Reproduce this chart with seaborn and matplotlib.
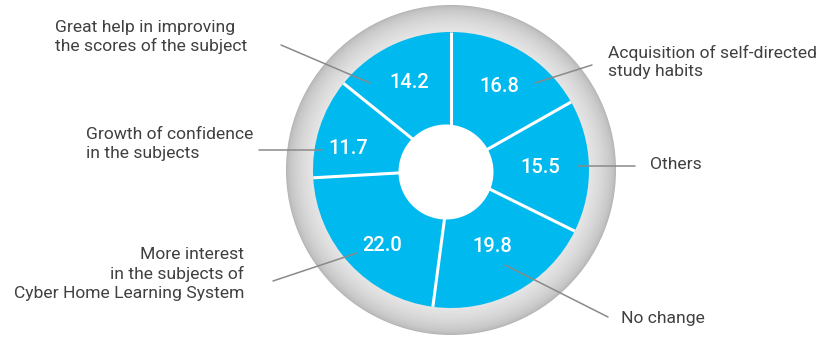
import numpy as np
import matplotlib
matplotlib.use("Agg")
import matplotlib.pyplot as plt
from matplotlib.patches import Circle
import seaborn as sns

# ---- data ----
categories = [
    "Acquisition of self-directed\nstudy habits",
    "Others",
    "No change",
    "More interest\nin the subjects of\nCyber Home Learning System",
    "Growth of confidence\nin the subjects",
    "Great help in improving\nthe scores of the subject",
]
values = [16.8, 15.5, 19.8, 22.0, 11.7, 14.2]
value_labels = ["16.8", "15.5", "19.8", "22.0", "11.7", "14.2"]

# ---- style ----
sns.set_theme(style="white")
plt.rcParams["font.family"] = ["Roboto", "DejaVu Sans"]

W, H = 820, 337
BLUE = "#00B9EE"
TEXT = "#404040"
LEAD = "#8a8a8a"

fig = plt.figure(figsize=(W / 100, H / 100), dpi=100)
ax = fig.add_axes([0, 0, 1, 1])

def Y(y):
    return H - y

cx, cy = 451, Y(170)
R_blue = 138
R_ring = 165

# gray gradient ring
N = 40
for i in range(N):
    t = i / (N - 1)  # 0 outer -> 1 inner
    r = R_ring - (R_ring - R_blue + 2) * t
    g = 0.70 + (0.91 - 0.70) * (t ** 0.5)
    ax.add_patch(Circle((cx, cy), r, color=(g, g, g), lw=0, zorder=1))

wedges, _ = ax.pie(values, startangle=90, counterclock=False, radius=R_blue,
                   center=(cx, cy), colors=[BLUE] * len(values),
                   wedgeprops=dict(linewidth=0), frame=True)
for w in wedges:
    w.set_zorder(2)
ax.set_xlim(0, W)
ax.set_ylim(0, H)
ax.set_aspect("equal")
ax.axis("off")

# separators
for w in wedges:
    a = np.deg2rad(w.theta1)
    ax.plot([cx, cx + R_blue * np.cos(a)], [cy, cy + R_blue * np.sin(a)],
            color="white", lw=2.2, zorder=3, solid_capstyle="butt")

# hole
ax.add_patch(Circle((446, Y(172)), 47.5, color="white", lw=0, zorder=4))

# value labels
label_r = [0.70, 0.65, 0.63, 0.74, 0.76, 0.70]
label_da = [0, 0, 0, 5, 6, 0]
for w, lab, rf, da in zip(wedges, value_labels, label_r, label_da):
    mid = np.deg2rad((w.theta1 + w.theta2) / 2 + da)
    ax.text(cx + rf * R_blue * np.cos(mid), cy + rf * R_blue * np.sin(mid), lab,
            color="white", fontsize=14.5, fontweight="medium",
            ha="center", va="center", zorder=5)

# category labels with leader lines
specs = [
    # (text x, text y(center of block), ha, leader from, leader to)
    (608, 62, "left", (592, 65), (535, 83)),
    (650, 165, "left", (635, 166), (578, 166)),
    (621, 318, "left", (608, 317), (505, 265)),
    (244, 274, "right", (273, 281), (357, 253)),
    (86, 144, "left", (259, 150), (322, 150)),
    (55, 37, "left", (281, 45), (370, 83)),
]
for cat, (tx, ty, ha, p0, p1) in zip(categories, specs):
    ax.text(tx, Y(ty), cat, ha=ha, va="center", fontsize=12.6, color=TEXT,
            fontweight="normal", multialignment=ha, linespacing=1.28, zorder=6)
    ax.plot([p0[0], p1[0]], [Y(p0[1]), Y(p1[1])], color=LEAD, lw=1.1, zorder=5)

fig.savefig("out.png", dpi=100, facecolor="white")
